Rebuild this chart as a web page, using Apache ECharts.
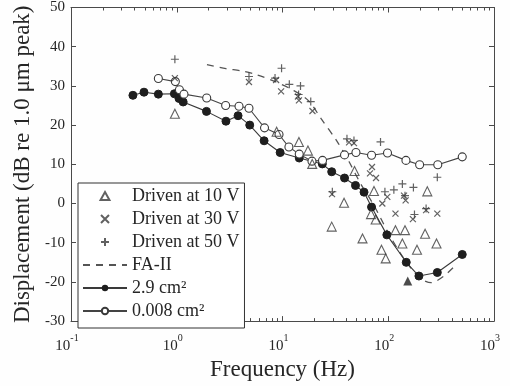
<!DOCTYPE html>
<html><head><meta charset="utf-8">
<script src="https://cdn.jsdelivr.net/npm/echarts@6/dist/echarts.min.js"></script>
<style>html,body{margin:0;padding:0;background:#fff}#c{width:510px;height:386px}</style>
</head><body><div id="c"></div>
<script>
// tick labels
const xTickExponents = ['-1', '0', '1', '2', '3'];
const yTicks = [-30, -20, -10, 0, 10, 20, 30, 40, 50];
const minorMantissas = [2, 3, 4, 5, 6, 7, 8, 9];
const decades = [0.1, 1, 10, 100];

// Driven at 10 V (open triangles)
const f10V = [0.96, 8.8, 14.3, 17.4, 19.1, 48, 73.3, 234, 38.2, 29.2, 57.1, 68.7, 76, 117, 144, 223, 136, 286, 86.3, 94.6, 187];
const db10V = [22.9, 18.3, 15.7, 13.5, 10.1, 8.3, 3.2, 3.1, 0.2, -5.9, -8.9, -2.7, -4.1, -6.8, -6.8, -7.7, -10.2, -10.2, -11.8, -14.0, -11.8];
// Driven at 30 V (x)
const f30V = [0.96, 4.82, 8.7, 9.7, 14.0, 14.3, 19.2, 42.6, 47.4, 70.2, 67.2, 76.6, 29.4, 87.9, 98, 117, 141, 146, 171, 228, 291];
const db30V = [32.0, 31.0, 31.5, 28.6, 27.3, 26.3, 23.6, 15.6, 15.4, 9.3, 7.7, 6.5, 2.4, 0.0, 1.7, -2.6, 2.0, 0.8, -4.0, -1.7, -2.6];
// Driven at 50 V (+)
const f50V = [0.96, 4.82, 8.5, 9.8, 11.6, 14.8, 14.2, 18.5, 40.7, 47.4, 84.5, 29.6, 93, 113, 136, 173, 291, 144, 177, 228];
const db50V = [36.8, 32.4, 32.0, 34.5, 30.4, 30.0, 27.8, 26.0, 16.5, 16.1, 15.7, 3.0, 3.0, 3.5, 5.0, 4.1, 6.7, 2.0, -2.8, -1.3];
// FA-II model (dashed)
const fFA = [1.93, 2.92, 4.14, 5.6, 8.3, 12.8, 17.8, 23.1, 32.7, 42.5, 55.2, 73.3, 101.6, 141, 195, 254, 336, 446];
const dbFA = [35.4, 34.4, 33.8, 32.9, 31.2, 28.8, 26.1, 21.7, 15.9, 10.7, 4.9, -0.5, -7.8, -14.1, -18.8, -20.2, -18.5, -15.4];
// 2.9 cm^2 (filled circles)
const f29 = [0.385, 0.49, 0.67, 0.95, 1.05, 1.15, 1.91, 2.92, 3.8, 4.9, 6.7, 9.5, 14.4, 23.8, 29.2, 38.6, 49, 59, 69.5, 97, 148, 195, 291, 501];
const db29 = [27.6, 28.4, 27.9, 28.0, 26.8, 25.9, 23.5, 21.0, 22.4, 20.0, 16.0, 13.0, 11.6, 10.1, 8.1, 6.5, 4.6, 2.9, -0.9, -8.0, -15.0, -18.5, -17.6, -13.0];
// 0.008 cm^2 (open circles)
const f008 = [0.67, 0.97, 1.06, 1.17, 1.92, 2.9, 3.88, 4.82, 6.76, 9.27, 11.5, 14.4, 19, 23.9, 38.6, 49.5, 69.5, 98.4, 147, 198, 294, 501];
const db008 = [31.9, 31.1, 29.0, 27.9, 26.9, 25.0, 24.8, 24.3, 19.3, 17.6, 14.4, 12.6, 10.8, 11.0, 12.4, 13.0, 12.3, 12.9, 11.0, 9.9, 9.9, 11.9];
// stray filled triangle
const fFillTri = [153];
const dbFillTri = [-19.8];

const zip = (a, b) => a.map((v, i) => [v, b[i]]);
const minorVals = [];
decades.forEach(d => minorMantissas.forEach(m => minorVals.push(+(d * m).toPrecision(3))));

const FONT = 'Liberation Serif';
const INK = '#262626';
const AX = '#4a4a4a';
const TRI = 'path://M5,0L10,9L0,9Z';
const CROSS = 'path://M0,0L10,10M10,0L0,10';
const PLUS = 'path://M5,0L5,10M0,5L10,5';

const xBase = {
  type: 'log', logBase: 10, min: 0.1, max: 1000,
  splitLine: { show: false },
  axisLine: { show: true, onZero: false, lineStyle: { color: AX, width: 1 } }
};

const chart = echarts.init(document.getElementById('c'), null, { renderer: 'canvas' });
chart.setOption({
  animation: false,
  backgroundColor: '#fefefe',
  grid: { left: 71, right: 16, top: 5, bottom: 53, show: false },
  legend: {
    data: ['Driven at 10 V', 'Driven at 30 V', 'Driven at 50 V', 'FA-II', '2.9 cm²', '0.008 cm²'],
    orient: 'vertical', left: 78, top: 183,
    backgroundColor: '#fff', borderColor: '#333', borderWidth: 1,
    padding: [4, 5, 8, 4], itemGap: 5, itemWidth: 44, itemHeight: 8,
    textStyle: { fontFamily: FONT, fontSize: 18, color: INK },
    selectedMode: false
  },
  xAxis: [
    Object.assign({}, xBase, {
      position: 'bottom',
      name: 'Frequency (Hz)', nameLocation: 'middle', nameGap: 33,
      nameTextStyle: { fontFamily: FONT, fontSize: 23, color: INK },
      axisTick: { show: true, inside: true, length: 5, lineStyle: { color: AX } },
      axisLabel: {
        margin: 12, padding: [0, 8, 0, 0],
        formatter: v => '{b|10}{s|' + xTickExponents[Math.round(Math.log10(v)) + 1] + '}',
        rich: {
          b: { fontFamily: FONT, fontSize: 15, color: INK, lineHeight: 20, verticalAlign: 'bottom' },
          s: { fontFamily: FONT, fontSize: 10, color: INK, lineHeight: 10, verticalAlign: 'top' }
        }
      }
    }),
    Object.assign({}, xBase, {
      position: 'bottom', axisLine: { show: false, onZero: false },
      axisTick: { show: true, inside: true, length: 3, customValues: minorVals, lineStyle: { color: AX } },
      axisLabel: { show: false }
    }),
    Object.assign({}, xBase, {
      position: 'top',
      axisTick: { show: true, inside: true, length: 5, lineStyle: { color: AX } },
      axisLabel: { show: false }
    }),
    Object.assign({}, xBase, {
      position: 'top', axisLine: { show: false, onZero: false },
      axisTick: { show: true, inside: true, length: 3, customValues: minorVals, lineStyle: { color: AX } },
      axisLabel: { show: false }
    })
  ],
  yAxis: [
    {
      type: 'value', min: yTicks[0], max: yTicks[yTicks.length - 1], interval: 10, position: 'left',
      name: 'Displacement (dB re 1.0 μm peak)', nameLocation: 'middle', nameGap: 37,
      nameTextStyle: { fontFamily: FONT, fontSize: 23, color: INK },
      splitLine: { show: false },
      axisLine: { show: true, onZero: false, lineStyle: { color: AX } },
      axisTick: { show: true, inside: true, length: 5, lineStyle: { color: AX } },
      axisLabel: { margin: 6, fontFamily: FONT, fontSize: 15, color: INK }
    },
    {
      type: 'value', min: yTicks[0], max: yTicks[yTicks.length - 1], interval: 10, position: 'right',
      splitLine: { show: false },
      axisLine: { show: true, onZero: false, lineStyle: { color: AX } },
      axisTick: { show: true, inside: true, length: 5, lineStyle: { color: AX } },
      axisLabel: { show: false }
    }
  ],
  series: [
    {
      name: 'FA-II', type: 'line', data: zip(fFA, dbFA), symbol: 'none', smooth: 0.3,
      lineStyle: { color: '#555', width: 1.3, type: [7, 6] }, itemStyle: { color: 'rgba(0,0,0,0)' }, z: 2
    },
    {
      name: '2.9 cm²', type: 'line', data: zip(f29, db29), symbol: 'circle', symbolSize: 8,
      lineStyle: { color: '#3a3a3a', width: 1.1 }, itemStyle: { color: '#1e1e1e', borderColor: '#1e1e1e' }, z: 3
    },
    {
      name: '0.008 cm²', type: 'line', data: zip(f008, db008), symbol: 'circle', symbolSize: 8,
      lineStyle: { color: '#444', width: 1.1 },
      itemStyle: { color: '#fff', borderColor: '#3a3a3a', borderWidth: 1.1 }, z: 3
    },
    {
      name: 'Driven at 10 V', type: 'scatter', data: zip(f10V, db10V), symbol: TRI, symbolSize: 9,
      itemStyle: { color: 'rgba(255,255,255,0)', borderColor: '#3a3a3a', borderWidth: 1.1 }, z: 4
    },
    {
      name: 'Driven at 30 V', type: 'scatter', data: zip(f30V, db30V), symbol: CROSS, symbolSize: 6,
      itemStyle: { color: 'none', borderColor: '#3a3a3a', borderWidth: 1.2 }, z: 4
    },
    {
      name: 'Driven at 50 V', type: 'scatter', data: zip(f50V, db50V), symbol: PLUS, symbolSize: 8,
      itemStyle: { color: 'none', borderColor: '#3a3a3a', borderWidth: 1.2 }, z: 4
    },
    {
      name: 'filled', type: 'scatter', data: zip(fFillTri, dbFillTri), symbol: TRI, symbolSize: 9,
      itemStyle: { color: '#1e1e1e' }, z: 4
    }
  ]
});
</script>
</body></html>
